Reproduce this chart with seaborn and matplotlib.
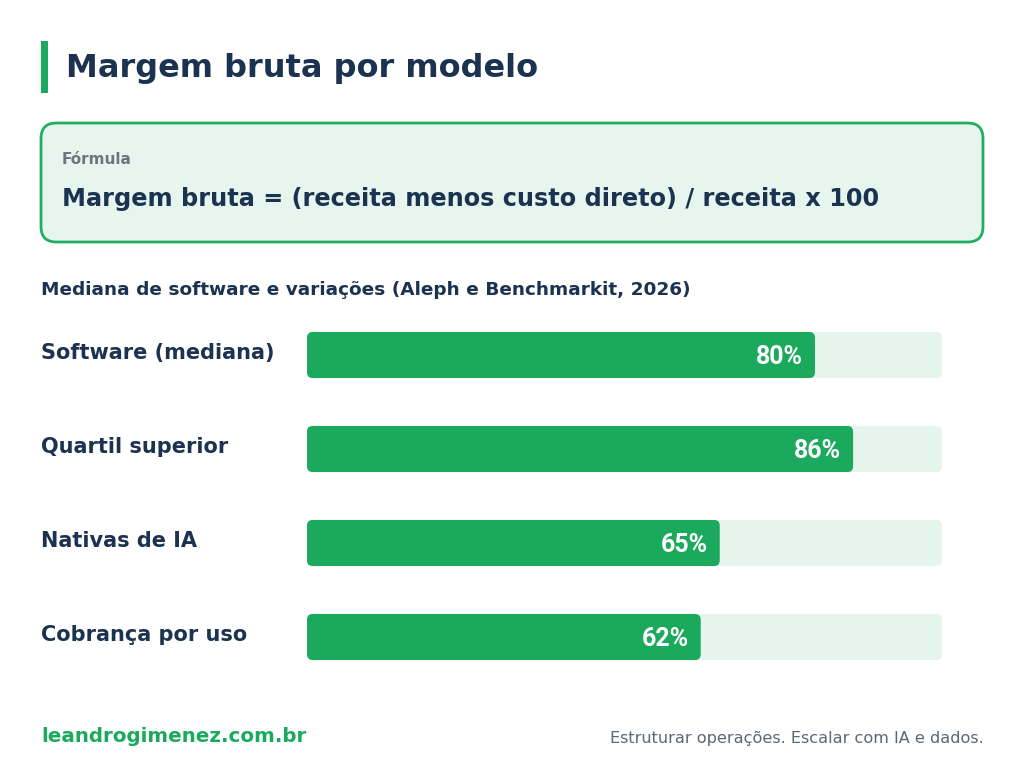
import matplotlib
matplotlib.use('Agg')
import matplotlib.pyplot as plt
import seaborn as sns
import pandas as pd
from matplotlib.patches import FancyBboxPatch, Rectangle

# dados
categorias = ['Software (mediana)', 'Quartil superior', 'Nativas de IA', 'Cobrança por uso']
margens = [80, 86, 65, 62]
rotulos = ['80%', '86%', '65%', '62%']
escala_max = [100, 100, 100, 100]

VERDE = '#1BAA5D'
TRILHA = '#E5F4EC'
AZUL = '#1B3350'
CINZA = '#5C6675'

sns.set_theme(style='white')
plt.rcParams['font.family'] = ['DejaVu Sans']

W, H = 1024, 778
fig = plt.figure(figsize=(W / 100, H / 100), dpi=100)
fig.patch.set_facecolor('white')


def px(x, y):
    return x / W, 1 - y / H


# titulo
fig.patches.append(Rectangle(px(41, 93), 7 / W, 52 / H, transform=fig.transFigure,
                             facecolor=VERDE, edgecolor='none'))
fig.text(*px(66, 68), 'Margem bruta por modelo', fontsize=23, fontweight='bold',
         color=AZUL, va='center')

# caixa da formula
fig.patches.append(FancyBboxPatch(px(41, 242), 942 / W, 119 / H, transform=fig.transFigure,
                                  boxstyle='round,pad=0,rounding_size=0.015',
                                  mutation_aspect=W / H,
                                  facecolor='#E6F5EE', edgecolor='#22AE60', linewidth=2))
fig.text(*px(62, 160), 'Fórmula', fontsize=11, fontweight='bold', color='#6B7480', va='center')
fig.text(*px(62, 199), 'Margem bruta = (receita menos custo direto) / receita x 100',
         fontsize=17.3, fontweight='bold', color=AZUL, va='center')

fig.text(*px(41, 290), 'Mediana de software e variações (Aleph e Benchmarkit, 2026)',
         fontsize=13.3, fontweight='bold', color=AZUL, va='center')

# barras
ax = fig.add_axes([307 / W, 1 - 684 / H, 635 / W, 376 / H])
df = pd.DataFrame({'categoria': categorias, 'margem': margens, 'max': escala_max})
sns.barplot(data=df, y='categoria', x='max', color=TRILHA, width=0.49, ax=ax,
            orient='h', saturation=1)
sns.barplot(data=df, y='categoria', x='margem', color=VERDE, width=0.49, ax=ax,
            orient='h', saturation=1)
ax.set_xlim(0, 100)
ax.set_ylim(3.5, -0.5)

# cantos arredondados a partir dos retangulos do seaborn
asp = (635 / 100) / (376 / 4)
for p in list(ax.patches):
    x0, y0 = p.get_x(), p.get_y()
    w, h = p.get_width(), p.get_height()
    fc = p.get_facecolor()
    p.remove()
    ax.add_patch(FancyBboxPatch((x0, y0), w, h,
                                boxstyle='round,pad=0,rounding_size=0.9',
                                mutation_aspect=asp, facecolor=fc, edgecolor='none'))

for i, (v, r) in enumerate(zip(margens, rotulos)):
    ax.text(v - 1.9, i + 0.02, r, ha='right', va='center', color='white', fontsize=18,
            fontweight='bold', family=['Roboto', 'DejaVu Sans'])

ax.set_xticks([])
ax.set_yticks([])
ax.set_xlabel('')
ax.set_ylabel('')
sns.despine(ax=ax, left=True, bottom=True)

for i, c in enumerate(categorias):
    fig.text(41 / W, 1 - (353 + 94 * i) / H, c, fontsize=15, fontweight='bold',
             color=AZUL, va='center')

# rodape
fig.text(*px(41, 736), 'leandrogimenez.com.br', fontsize=14.3, fontweight='bold',
         color=VERDE, va='center')
fig.text(*px(984, 738), 'Estruturar operações. Escalar com IA e dados.', fontsize=11.6,
         color=CINZA, va='center', ha='right')

fig.savefig('out.png', dpi=100, facecolor='white')
